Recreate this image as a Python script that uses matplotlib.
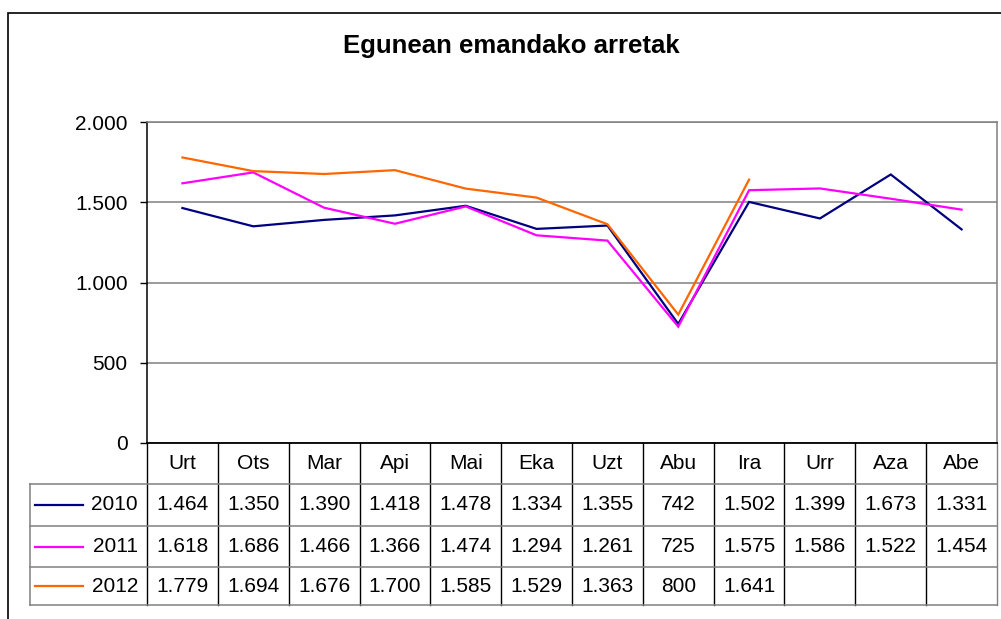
import matplotlib
matplotlib.use("Agg")
import matplotlib.pyplot as plt
from matplotlib.lines import Line2D
from matplotlib.patches import Rectangle
from matplotlib.ticker import FuncFormatter

plt.rcParams['font.family'] = ['Liberation Sans', 'DejaVu Sans']

months = ["Urt", "Ots", "Mar", "Api", "Mai", "Eka", "Uzt", "Abu", "Ira", "Urr", "Aza", "Abe"]
years = ["2010", "2011", "2012"]
v2010 = [1464, 1350, 1390, 1418, 1478, 1334, 1355, 742, 1502, 1399, 1673, 1331]
v2011 = [1618, 1686, 1466, 1366, 1474, 1294, 1261, 725, 1575, 1586, 1522, 1454]
v2012 = [1779, 1694, 1676, 1700, 1585, 1529, 1363, 800, 1641]
series = [v2010, v2011, v2012]
colors = ["#000080", "#FF00FF", "#FF6600"]
title = "Egunean emandako arretak"

W, H = 1001, 619
fig = plt.figure(figsize=(W / 100, H / 100), dpi=100)

def fx(px):
    return px / W

def fy(py):
    return 1 - py / H

L, R, T, B = 147, 997, 122, 443
ax = fig.add_axes([fx(L), fy(B), fx(R) - fx(L), fy(T) - fy(B)])

def fmt(v, pos=None):
    return f"{int(v):,}".replace(",", ".")

x = list(range(len(months)))
for vals, c in zip(series, colors):
    ax.plot(x[:len(vals)], vals, color=c, lw=1.6, solid_joinstyle='miter')

ax.set_xlim(-0.5, len(months) - 0.5)
ax.set_ylim(0, 2000)
ax.set_yticks([0, 500, 1000, 1500, 2000])
ax.yaxis.set_major_formatter(FuncFormatter(fmt))
ax.tick_params(axis='y', labelsize=15, length=5, width=1, pad=9, color='black')
ax.set_xticks([])
ax.yaxis.grid(True, color='#808080', lw=1.1)
ax.set_axisbelow(True)
for s in ['top', 'right']:
    ax.spines[s].set_color('#808080')
    ax.spines[s].set_linewidth(1.1)
ax.spines['left'].set_color('black')
ax.spines['bottom'].set_color('black')
ax.spines['left'].set_linewidth(1.1)
ax.spines['bottom'].set_linewidth(1.3)

# outer chart frame
fig.patches.append(Rectangle((fx(8), fy(640)), fx(1100) - fx(8), fy(13) - fy(640),
                             transform=fig.transFigure, fill=False, ec='black', lw=1.2))

fig.text(fx(511), fy(46), title, ha='center', va='center', fontsize=18.5, fontweight='bold')

# data table
tr = ax.get_xaxis_transform()
def ay(py):
    return (B - py) / (B - T)

rows_y = [443, 484, 526, 567, 605]
lc = '#808080'
for k in range(len(months) + 1):
    xx = k - 0.5
    ax.add_line(Line2D([xx, xx], [ay(443), ay(605)], transform=tr, color='black' if k < len(months) else lc,
                       lw=1.0, clip_on=False))
for py in rows_y[1:]:
    fig.add_artist(Line2D([fx(30), fx(R)], [fy(py), fy(py)], color=lc, lw=1.1))
fig.add_artist(Line2D([fx(30), fx(30)], [fy(484), fy(605)], color=lc, lw=1.1))

fs = 15
for i, m in enumerate(months):
    ax.text(i, ay((443 + 484) / 2), m, transform=tr, ha='center', va='center', fontsize=fs, clip_on=False)

for r, (vals, c, yr) in enumerate(zip(series, colors, years)):
    yc = (rows_y[r + 1] + rows_y[r + 2]) / 2
    fig.add_artist(Line2D([fx(35), fx(83)], [fy(yc), fy(yc)], color=c, lw=1.6))
    fig.text(fx(138), fy(yc), yr, ha='right', va='center', fontsize=fs)
    for i, v in enumerate(vals):
        ax.text(i, ay(yc), fmt(v), transform=tr, ha='center', va='center', fontsize=fs, clip_on=False)

fig.savefig("out.png", dpi=100)
